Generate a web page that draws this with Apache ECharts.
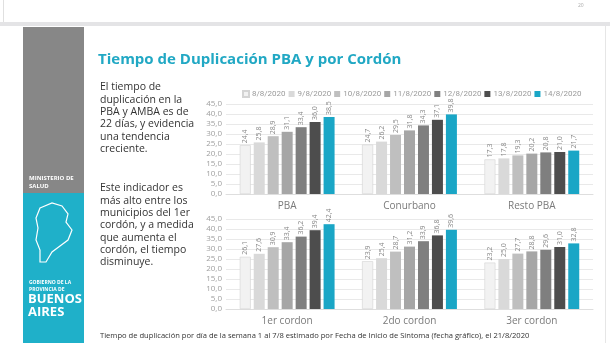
<!DOCTYPE html>
<html><head><meta charset="utf-8">
<script src="https://cdn.jsdelivr.net/npm/echarts@6/dist/echarts.min.js"></script>
<style>html,body{margin:0;padding:0;background:#fff;}#c{width:610px;height:343px;}</style>
</head><body><div id="c"></div>
<script>
const dates = ['8/8/2020','9/8/2020','10/8/2020','11/8/2020','12/8/2020','13/8/2020','14/8/2020'];
const catsTop = ['PBA','Conurbano','Resto PBA'];
const catsBottom = ['1er cordon','2do cordon','3er cordon'];
const pba = [24.4,25.8,28.9,31.1,33.4,36.0,38.5];
const conurbano = [24.7,26.2,29.5,31.8,34.3,37.1,39.8];
const restoPba = [17.3,17.8,19.3,20.2,20.8,21.0,21.7];
const cordon1 = [26.1,27.6,30.9,33.4,36.2,39.4,42.4];
const cordon2 = [23.9,25.4,28.7,31.2,33.9,36.8,39.6];
const cordon3 = [23.2,25.0,27.7,28.8,29.6,31.0,32.8];
const colors = ['#f2f2f2','#d9d9d9','#bfbfbf','#a6a6a6','#7f7f7f','#4d4d4d','#1aa6c6'];
const yTicks = {min:0,max:45,interval:5};

const fmt = v => v.toFixed(1).replace('.', ',');
const chart = echarts.init(document.getElementById('c'));
const series = [];
dates.forEach((d,i)=>{
  [[ [pba[i],conurbano[i],restoPba[i]], 0 ], [ [cordon1[i],cordon2[i],cordon3[i]], 1 ]].forEach(([data,g])=>{
    series.push({
      type:'bar', name:d, xAxisIndex:g, yAxisIndex:g, data:data,
      barWidth:11, barGap:'27%',
      itemStyle:{color:colors[i], borderColor: i===0?'#d4d4d4':colors[i], borderWidth: i===0?0.6:0},
      label:{show:true, position:'top', rotate:90, align:'left', verticalAlign:'middle', distance:2,
        fontSize:7, color:'#8a8a8a', fontFamily:'Open Sans', formatter:p=>fmt(p.value)}
    });
  });
});
const yAx = g => ({type:'value', gridIndex:g, min:yTicks.min, max:yTicks.max, interval:yTicks.interval,
  axisLabel:{fontSize:8, color:'#a0a0a0', fontFamily:'Open Sans', margin:4, formatter:v=>fmt(v)},
  splitLine:{lineStyle:{color:'#e9e9e9'}}, axisLine:{show:false}, axisTick:{show:false}});
const xAx = (g,cats) => ({type:'category', gridIndex:g, data:cats,
  axisLabel:{fontSize:10, color:'#7a7a7a', fontFamily:'Open Sans', margin:7},
  axisLine:{lineStyle:{color:'#dedede'}}, axisTick:{show:false}});

const textLines = (lines, x, y0, lh, style) => lines.map((t,k)=>({type:'text', left:x, top:y0+k*lh,
  style:Object.assign({text:t, fill:'#333', font:'10.5px "Open Sans"'}, style||{})}));

const p1 = ['El tiempo de','duplicación en la','PBA y AMBA es de','22 días, y evidencia','una tendencia','creciente.'];
const p2 = ['Este indicador es','más alto entre los','municipios del 1er','cordón, y a medida','que aumenta el','cordón, el tiempo','disminuye.'];

const mapPts = [[40,208],[52,203],[62,206],[68,214],[66,222],[72,230],[68,240],[60,246],[52,252],[46,262],[40,262],[40,250],[36,240],[38,228],[36,218]];

chart.setOption({
  animation:false,
  textStyle:{fontFamily:'Open Sans'},
  legend:{data:dates, top:85, left:237, width:400, itemWidth:6, itemHeight:6, itemGap:3, icon:'rect',
    textStyle:{fontSize:8, color:'#9a9a9a', fontFamily:'Roboto', padding:[0,0,0,-2]}},
  grid:[{left:226, right:17, top:104, height:90}, {left:226, right:17, top:219, height:90}],
  xAxis:[xAx(0,catsTop), xAx(1,catsBottom)],
  yAxis:[yAx(0), yAx(1)],
  series:series,
  graphic:[
    {type:'rect', shape:{x:0,y:22,width:610,height:4}, style:{fill:'#e4e4e6'}},
    {type:'rect', shape:{x:3,y:0,width:1,height:22}, style:{fill:'#e0e0e0'}},
    {type:'rect', shape:{x:605,y:26,width:1,height:317}, style:{fill:'#e6e6e6'}},
    {type:'text', left:578, top:3, style:{text:'20', fill:'#aaa', font:'5px "Open Sans"'}},
    {type:'rect', shape:{x:23,y:27,width:61,height:166}, style:{fill:'#878787'}},
    {type:'rect', shape:{x:23,y:193,width:61,height:150}, style:{fill:'#1fb0c9'}},
    {type:'text', left:29, top:174, style:{text:'MINISTERIO DE\nSALUD', fill:'#fff', font:'bold 6px "Open Sans"', lineHeight:8}},
    {type:'polygon', shape:{points:mapPts}, style:{fill:'none', stroke:'#fff', lineWidth:1.2}},
    {type:'text', left:29, top:279, style:{text:'GOBIERNO DE LA\nPROVINCIA DE', fill:'#fff', font:'bold 5px "Open Sans"', lineHeight:7}},
    {type:'text', left:28, top:293, style:{text:'BUENOS\nAIRES', fill:'#fff', font:'bold 13px "Open Sans"', lineHeight:13}},
    {type:'text', left:98, top:52, style:{text:'Tiempo de Duplicación PBA y por Cordón', fill:'#21a8c4', font:'bold 15px "Open Sans"'}}
  ].concat(textLines(p1,100,82,12.3)).concat(textLines(p2,100,183,12.3)).concat([
    {type:'text', left:100, top:332, style:{text:'Tiempo de duplicación por día de la semana 1 al 7/8 estimado por Fecha de Inicio de Síntoma (fecha gráfico), el 21/8/2020', fill:'#333', font:'7.6px "Open Sans"'}}
  ])
});
</script></body></html>
